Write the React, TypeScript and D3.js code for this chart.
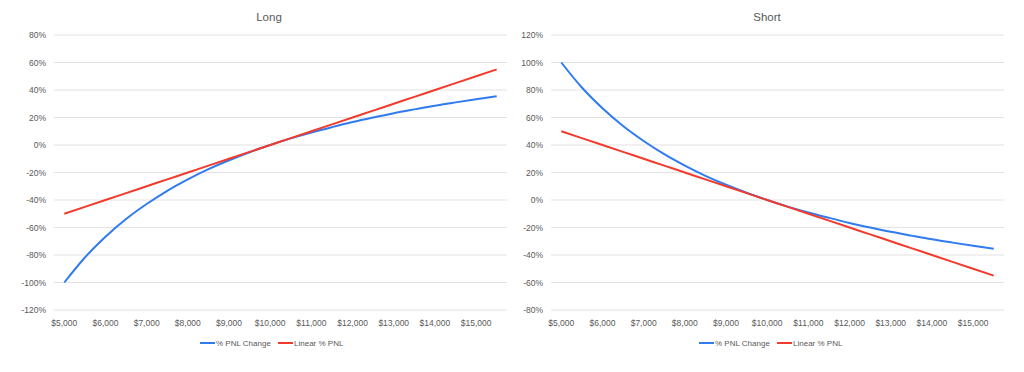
import { useEffect, useRef } from 'react';
import * as d3 from 'd3';

const prices = [
  5000, 5500, 6000, 6500, 7000, 7500, 8000, 8500, 9000, 9500, 10000, 10500,
  11000, 11500, 12000, 12500, 13000, 13500, 14000, 14500, 15000, 15500,
];
const longPnl = [
  -100, -81.8, -66.7, -53.8, -42.9, -33.3, -25, -17.6, -11.1, -5.3, 0, 4.8, 9.1,
  13, 16.7, 20, 23.1, 25.9, 28.6, 31, 33.3, 35.5,
];
const longLinear = [
  -50, -45, -40, -35, -30, -25, -20, -15, -10, -5, 0, 5, 10, 15, 20, 25, 30, 35,
  40, 45, 50, 55,
];
const shortPnl = [
  100, 81.8, 66.7, 53.8, 42.9, 33.3, 25, 17.6, 11.1, 5.3, 0, -4.8, -9.1, -13,
  -16.7, -20, -23.1, -25.9, -28.6, -31, -33.3, -35.5,
];
const shortLinear = [
  50, 45, 40, 35, 30, 25, 20, 15, 10, 5, 0, -5, -10, -15, -20, -25, -30, -35,
  -40, -45, -50, -55,
];
const longTicks = [80, 60, 40, 20, 0, -20, -40, -60, -80, -100, -120];
const shortTicks = [120, 100, 80, 60, 40, 20, 0, -20, -40, -60, -80];
const seriesNames = ['% PNL Change', 'Linear % PNL'];

const BLUE = '#2f7bef';
const RED = '#f23b2c';
const TEXT = '#595959';
const FONT = "'Liberation Sans', Arial, sans-serif";

const App = () => {
  const svgRef = useRef(null);

  useEffect(() => {
    if (!svgRef.current) return;
    const svg = d3.select(svgRef.current);
    svg.selectAll('*').remove();

    const panels = [
      { title: 'Long', left: 54, right: 507, titleX: 269, ticks: longTicks, pnl: longPnl, lin: longLinear, legendX: 200 },
      { title: 'Short', left: 551, right: 1004, titleX: 767, ticks: shortTicks, pnl: shortPnl, lin: shortLinear, legendX: 699 },
    ];
    const top = 35;
    const bottom = 310;

    panels.forEach((p) => {
      const g = svg.append('g');
      const x = d3
        .scaleBand<number>()
        .domain(prices)
        .range([p.left, p.right]);
      const cx = (d: number) => x(d)! + x.bandwidth() / 2;
      const y = d3
        .scaleLinear()
        .domain([d3.min(p.ticks)!, d3.max(p.ticks)!])
        .range([bottom, top]);

      // gridlines + labels
      g.selectAll('line.grid')
        .data(p.ticks)
        .join('line')
        .attr('x1', p.left)
        .attr('x2', p.right)
        .attr('y1', (d) => y(d))
        .attr('y2', (d) => y(d))
        .attr('stroke', '#e2e2e2')
        .attr('stroke-width', 1);
      g.selectAll('text.ytick')
        .data(p.ticks)
        .join('text')
        .attr('x', p.left - 8)
        .attr('y', (d) => y(d) + 3)
        .attr('text-anchor', 'end')
        .attr('font-size', 8.5)
        .attr('font-family', FONT)
        .attr('fill', TEXT)
        .text((d) => `${d}%`);

      const fmt = d3.format('$,');
      g.selectAll('text.xtick')
        .data(prices.filter((d) => d % 1000 === 0))
        .join('text')
        .attr('x', (d) => cx(d))
        .attr('y', bottom + 16)
        .attr('text-anchor', 'middle')
        .attr('font-size', 8.5)
        .attr('font-family', FONT)
        .attr('fill', TEXT)
        .text((d) => fmt(d));

      const line = d3
        .line<number>()
        .x((_, i) => cx(prices[i]))
        .y((d) => y(d))
        .curve(d3.curveMonotoneX);

      [
        { vals: p.pnl, color: BLUE },
        { vals: p.lin, color: RED },
      ].forEach((s) => {
        g.append('path')
          .attr('d', line(s.vals))
          .attr('fill', 'none')
          .attr('stroke', s.color)
          .attr('stroke-width', 2);
      });

      g.append('text')
        .attr('x', p.titleX)
        .attr('y', 21)
        .attr('text-anchor', 'middle')
        .attr('font-size', 11.5)
        .attr('font-family', FONT)
        .attr('fill', TEXT)
        .text(p.title);

      // legend
      const legendY = 343;
      const items = [
        { name: seriesNames[0], color: BLUE, x: p.legendX },
        { name: seriesNames[1], color: RED, x: p.legendX + 78 },
      ];
      items.forEach((it) => {
        g.append('line')
          .attr('x1', it.x)
          .attr('x2', it.x + 15)
          .attr('y1', legendY)
          .attr('y2', legendY)
          .attr('stroke', it.color)
          .attr('stroke-width', 2);
        g.append('text')
          .attr('x', it.x + 16)
          .attr('y', legendY + 3)
          .attr('font-size', 8)
          .attr('font-family', FONT)
          .attr('fill', TEXT)
          .text(it.name);
      });
    });
  }, []);

  return (
    <svg
      ref={svgRef}
      width={1024}
      height={372}
      style={{ position: 'absolute', left: 0, top: 0, background: '#fff' }}
    ></svg>
  );
};

export default App;
